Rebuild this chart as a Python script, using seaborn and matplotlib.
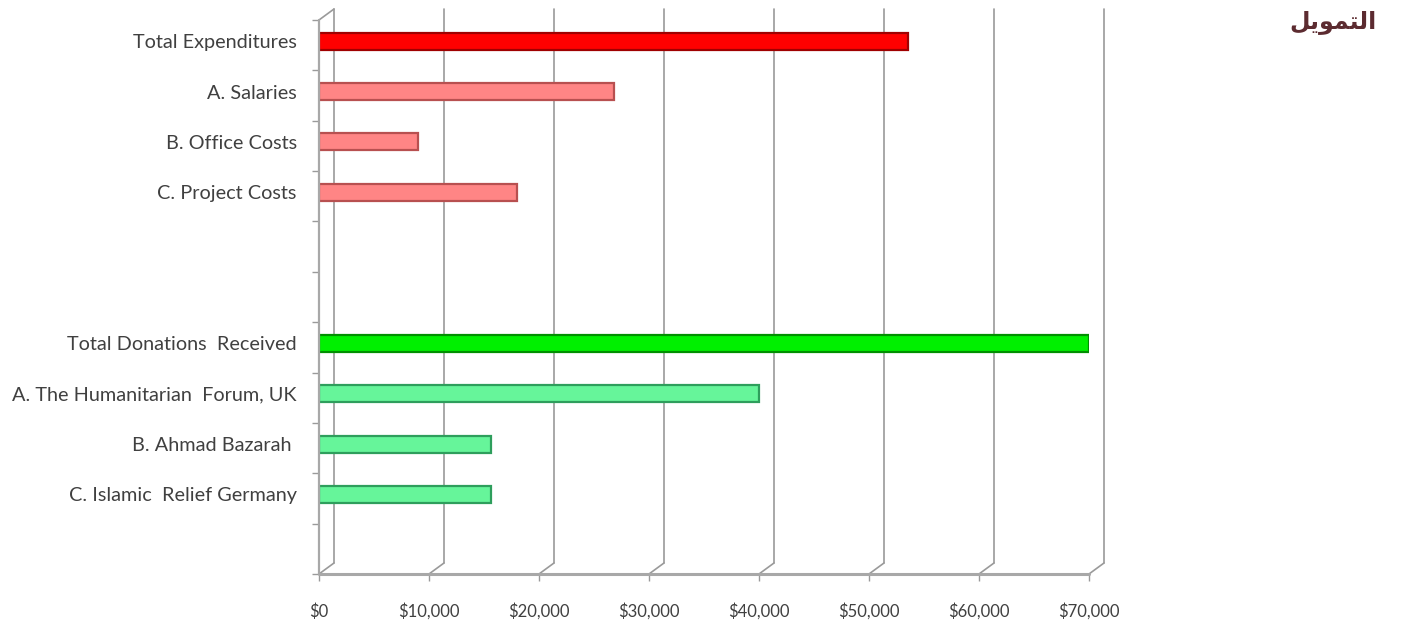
import pandas as pd
import matplotlib
matplotlib.use("Agg")
import matplotlib.pyplot as plt
import seaborn as sns
from matplotlib.transforms import offset_copy
from matplotlib.ticker import FuncFormatter, FixedLocator

# title "التمويل" -- matplotlib does no Arabic shaping, so the word is given
# in presentation forms, in visual (left-to-right) order
title_ar = "\uFEDE\uFEF3\uFEEE\uFEE4\uFE98\uFEDF\uFE8D"

categories = ["Total Expenditures", "A. Salaries", "B. Office Costs", "C. Project Costs",
              "Total Donations  Received", "A. The Humanitarian  Forum, UK",
              "B. Ahmad Bazarah ", "C. Islamic  Relief Germany"]
amounts = [53500, 26800, 9000, 18000, 70000, 40000, 15600, 15600]
bar_colors = ["#FF0000", "#FF8585", "#FF8585", "#FF8585",
              "#00F000", "#66F59A", "#66F59A", "#66F59A"]
edge_colors = ["#A00000", "#B85050", "#B85050", "#B85050",
               "#009000", "#2E9E5C", "#2E9E5C", "#2E9E5C"]
# empty slots in the category axis
slot_order = categories[:4] + [" ", "  "] + categories[4:] + ["   "]
x_ticks = [0, 10000, 20000, 30000, 40000, 50000, 60000, 70000]

df = pd.DataFrame({"item": categories, "amount": amounts})

sns.set_style("white")
plt.rcParams["font.family"] = ["Lato", "DejaVu Sans"]

fig = plt.figure(figsize=(14.11, 6.29), dpi=100)
ax = fig.add_axes([319 / 1411, 1 - 574 / 629, 770 / 1411, 554 / 629])

sns.barplot(data=df, y="item", x="amount", order=slot_order, hue="item",
            palette=dict(zip(categories, bar_colors)), legend=False, saturation=1,
            width=0.34, orient="h", ax=ax, zorder=3)

edge_map = dict(zip(categories, edge_colors))
for patch, name in zip(ax.patches, categories):
    patch.set_edgecolor(edge_map[name])
    patch.set_linewidth(1.6)

# bars sit a little above the middle of their slot (3D look)
shift = 0.08
ax.set_xlim(0, 70000)
ax.set_ylim(len(slot_order) - 0.5 + shift, -0.5 + shift)
for s in ax.spines.values():
    s.set_visible(False)

# 3D-style walls: back gridlines shifted up/right, front axis lines
grid_col = "#9a9a9a"
xt = ax.get_xaxis_transform()
back = offset_copy(xt, fig=fig, x=15, y=11, units="dots")
for t in x_ticks:
    ax.plot([t, t], [0, 1], transform=back, color=grid_col, lw=1.2, zorder=1, clip_on=False)
    # connector between front and back
    ax.annotate("", xy=(t, 0), xycoords=back, xytext=(t, 0), textcoords=xt,
                arrowprops=dict(arrowstyle="-", color=grid_col, lw=1.2,
                                shrinkA=0, shrinkB=0))
ax.plot([0, 70000], [0, 0], transform=xt, color="#a8a8a8", lw=2.2, clip_on=False, zorder=4)
ax.plot([0, 0], [0, 1], transform=xt, color="#a8a8a8", lw=1.6, clip_on=False, zorder=4)
ax.annotate("", xy=(0, 1), xycoords=back, xytext=(0, 1), textcoords=xt,
            arrowprops=dict(arrowstyle="-", color=grid_col, lw=1.2, shrinkA=0, shrinkB=0))

ax.xaxis.set_major_locator(FixedLocator(x_ticks))
ax.xaxis.set_major_formatter(FuncFormatter(lambda v, p: f"${v:,.0f}"))
ax.tick_params(axis="x", length=5, width=1, color=grid_col, pad=16,
               labelsize=12, labelcolor="#404040", bottom=True)
ax.tick_params(axis="y", length=0, pad=16, labelsize=14.3, labelcolor="#404040")
ax.yaxis.set_minor_locator(FixedLocator([k - 0.5 + shift for k in range(len(slot_order) + 1)]))
ax.tick_params(axis="y", which="minor", length=5, width=1, color=grid_col, left=True)
ax.set_xlabel("")
ax.set_ylabel("")

fig.text(1333 / 1411, 1 - 22 / 629, title_ar, ha="center", va="center",
         fontsize=17, fontweight="bold", color="#5C2B30", family=["DejaVu Sans"])

fig.savefig("out.png", dpi=100)
